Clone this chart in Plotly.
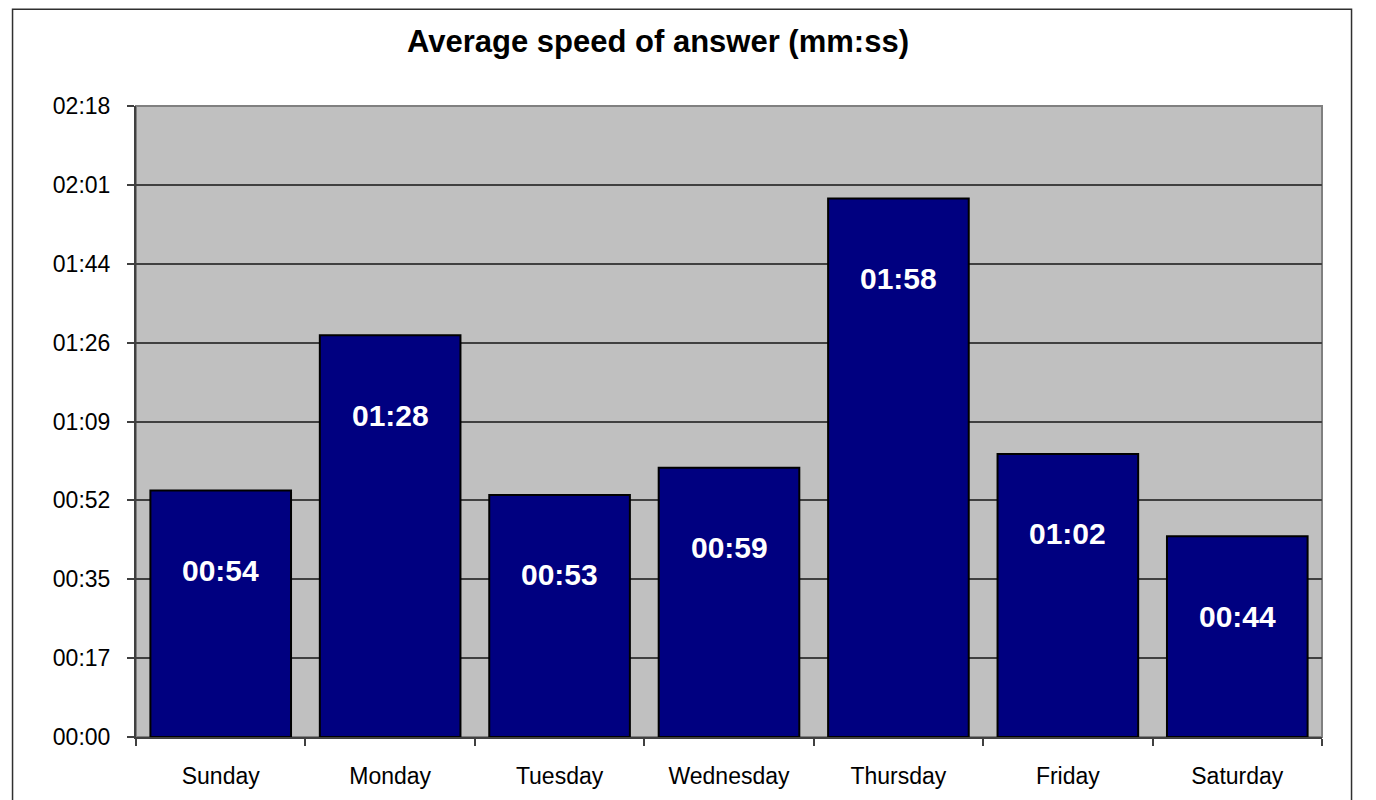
import plotly.graph_objects as go

# 数据(秒)
days = ['Sunday', 'Monday', 'Tuesday', 'Wednesday', 'Thursday', 'Friday', 'Saturday']
answer_seconds = [54, 88, 53, 59, 118, 62, 44]

# Excel 风格刻度:0.0002 天 = 17.28 秒
tick_seconds = [i * 17.28 for i in range(9)]


def mmss(sec):
    sec = int(round(sec))
    return f'{sec // 60:02d}:{sec % 60:02d}'


fig = go.Figure()

fig.add_trace(go.Bar(
    x=days,
    y=answer_seconds,
    marker=dict(color='#000080', line=dict(color='#000000', width=2)),
    hoverinfo='skip',
))

# 柱内标签
for day, val in zip(days, answer_seconds):
    fig.add_annotation(
        x=day, y=val - 17.5,
        text=mmss(val),
        showarrow=False,
        font=dict(family='Liberation Sans, Arial', size=30, color='white', weight='bold'),
        xanchor='center', yanchor='middle',
    )

# 外框
fig.add_shape(type='rect', xref='paper', yref='paper',
              x0=-0.1041, x1=1.0249, y0=-0.2, y1=1.1535,
              line=dict(color='#303030', width=1.5), layer='below')

# 绘图区边框(灰色)
fig.add_shape(type='rect', xref='paper', yref='paper',
              x0=0, x1=1, y0=0, y1=1,
              line=dict(color='#808080', width=2), layer='below')

fig.update_layout(
    width=1376,
    height=800,
    title=dict(
        text='<b>Average speed of answer (mm:ss)</b>',
        x=650 / 1376, xanchor='center',
        y=1 - 33 / 800, yanchor='middle',
        font=dict(family='Liberation Sans, Arial', size=31, color='#000'),
    ),
    font=dict(family='Liberation Sans, Arial', size=23, color='#000'),
    plot_bgcolor='#C0C0C0',
    paper_bgcolor='white',
    bargap=0.17,
    showlegend=False,
    margin=dict(l=128, r=62, t=98, b=71),
    xaxis=dict(
        type='category',
        tickson='boundaries',
        ticks='outside', ticklen=7, tickcolor='#404040', tickwidth=1.5,
        showline=True, linecolor='#404040', linewidth=2,
        showgrid=False,
        ticklabelstandoff=17,
    ),
    yaxis=dict(
        range=[0, tick_seconds[-1]],
        tickmode='array',
        tickvals=tick_seconds,
        ticktext=[mmss(t) for t in tick_seconds],
        ticks='outside', ticklen=7, tickcolor='#404040', tickwidth=1.5,
        showline=True, linecolor='#404040', linewidth=2,
        showgrid=True, gridcolor='#404040', gridwidth=1.5,
        zeroline=False,
        ticklabelstandoff=12,
    ),
)

fig.write_html('out.html')
